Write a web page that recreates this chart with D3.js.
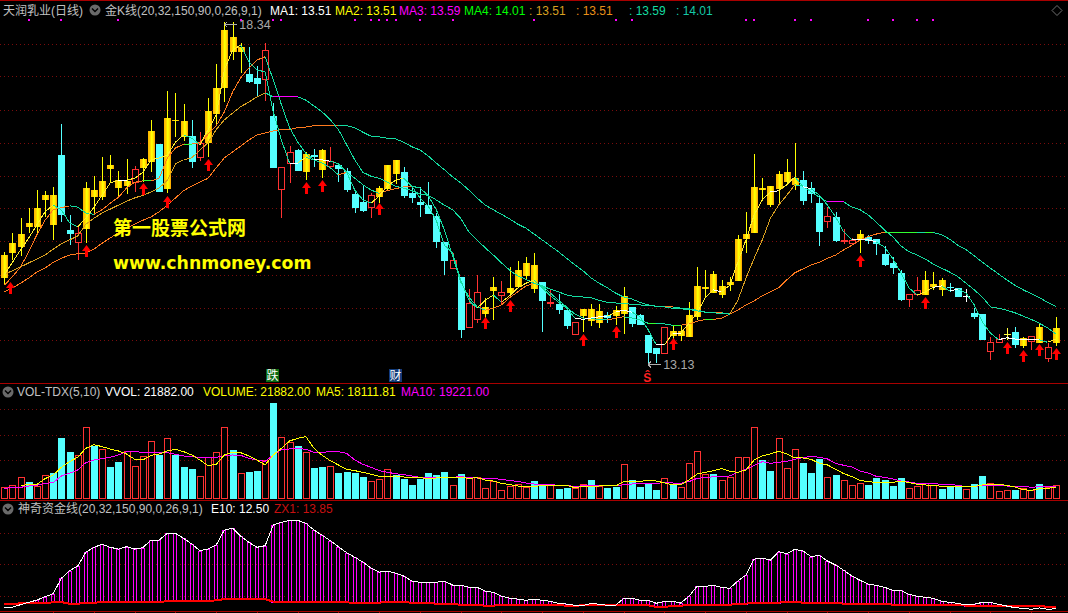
<!DOCTYPE html>
<html><head><meta charset="utf-8">
<script src="https://cdn.jsdelivr.net/npm/d3@7"></script>
<style>html,body{margin:0;padding:0;background:#000;overflow:hidden}svg{display:block}</style>
</head><body><svg id="c" width="1068" height="613"></svg>
<script>
// c = falling (cyan), g = rising gold, r = hollow red, w = white cross, y = yellow cross
const candleKinds = "gggggggccr"+"ggggggrggc"+"gggcrggggg"+"ccrcrrcgcg"+"rccccrgggc"+"cccccrcrrg"+"grggggcrcc"+"rgggcggccc"+"crgggggggg"+"ggggggggcc"+"crcrrgcccc"+"crrgggccwc"+"crrycgrgrg";
const bodyHigh = [14.79,14.97,15.11,15.28,15.51,15.70,15.70,16.31,15.17,15.13,15.81,15.78,15.92,16.16,15.93,15.92,16.10,16.25,16.68,16.48,16.88,16.85,16.83,16.60,16.50,16.98,17.33,18.22,18.11,17.96,17.55,17.49,17.91,16.91,16.13,16.36,16.39,16.33,16.31,16.39,16.22,16.16,16.07,15.72,15.60,15.70,15.81,16.16,16.24,16.05,15.73,15.60,15.55,15.38,14.99,14.71,14.45,14.06,14.23,14.00,14.30,14.23,14.29,14.56,14.67,14.64,14.38,14.07,14.04,13.95,13.77,13.97,13.97,13.94,13.88,13.95,14.17,14.00,13.88,13.57,13.37,13.69,13.63,13.63,13.87,14.32,14.30,14.50,14.32,14.38,15.03,15.11,15.83,15.81,15.84,16.02,16.05,15.96,15.93,15.81,15.58,15.38,15.37,15.02,15.02,15.11,15.07,15.03,14.81,14.67,14.52,14.20,14.26,14.41,14.35,14.41,14.30,14.29,14.17,13.91,13.89,13.46,13.51,13.59,13.62,13.53,13.56,13.69,13.39,13.68];
const bodyLow = [14.44,14.82,14.91,15.22,15.22,15.63,15.25,15.40,15.11,14.99,15.19,15.67,15.67,16.10,15.81,15.84,15.90,16.12,16.21,15.75,15.80,16.83,16.59,16.21,16.28,16.50,16.94,17.33,17.88,17.88,17.43,17.40,17.47,16.12,15.80,16.19,16.07,16.05,16.28,16.09,16.15,16.10,15.78,15.51,15.46,15.52,15.67,15.80,16.02,15.69,15.66,15.55,15.41,14.99,14.70,14.59,13.65,13.69,13.82,13.89,14.24,14.18,14.21,14.30,14.47,14.27,14.09,14.06,13.95,13.71,13.59,13.86,13.78,13.75,13.83,13.86,13.89,13.74,13.72,13.30,13.28,13.30,13.56,13.56,13.54,13.85,14.27,14.21,14.18,14.33,14.39,15.03,15.13,15.78,15.55,15.80,15.90,15.86,15.61,15.72,15.14,15.31,15.00,15.00,14.97,15.02,15.00,14.96,14.64,14.59,14.10,14.12,14.20,14.18,14.30,14.26,14.29,14.15,14.15,13.85,13.50,13.33,13.46,13.58,13.42,13.40,13.48,13.45,13.22,13.45];
const highs = [14.84,15.13,15.35,15.51,15.78,15.77,15.83,16.79,15.40,15.22,15.90,16.00,16.28,16.31,16.07,16.25,16.15,16.27,16.85,16.48,17.29,17.26,17.09,16.85,16.66,17.18,17.70,18.34,18.34,18.02,17.96,17.67,18.02,17.11,16.13,16.45,16.41,16.36,16.41,16.41,16.44,16.19,16.12,15.77,15.84,15.73,15.84,16.16,16.24,16.13,15.84,15.83,15.90,15.43,14.99,14.82,14.45,14.27,14.49,14.14,14.45,14.39,14.61,14.70,14.76,14.82,14.38,14.27,14.20,13.95,13.77,13.97,14.04,14.04,13.92,14.01,14.30,14.00,13.89,13.57,13.37,13.69,13.71,13.71,14.07,14.61,14.56,14.55,14.41,14.45,15.10,15.45,16.33,15.96,15.84,16.07,16.25,16.50,16.07,15.90,15.70,15.52,15.44,15.19,15.05,15.17,15.10,15.03,14.93,14.76,14.56,14.20,14.45,14.55,14.53,14.44,14.36,14.29,14.27,13.98,13.89,13.54,13.59,13.68,13.69,13.54,13.56,13.74,13.45,13.85];
const lows = [14.34,14.71,14.78,15.13,15.13,15.37,15.02,15.29,14.94,14.71,14.97,15.40,15.63,15.90,15.66,15.72,15.75,15.90,16.05,15.75,15.73,16.59,16.53,16.12,16.22,16.28,16.79,17.12,17.76,17.56,17.41,17.20,17.14,16.12,15.35,15.89,16.07,15.93,16.13,15.96,16.12,15.90,15.75,15.43,15.45,15.35,15.58,15.78,15.87,15.66,15.58,15.37,15.41,14.90,14.49,14.59,13.53,13.69,13.75,13.83,13.80,14.03,14.14,14.30,14.41,14.21,13.62,14.00,13.89,13.66,13.57,13.62,13.71,13.68,13.75,13.72,13.59,13.69,13.72,13.13,13.15,13.30,13.50,13.48,13.54,13.80,14.15,14.21,14.14,14.24,14.39,14.82,15.13,15.61,15.52,15.58,15.89,15.78,15.55,15.58,14.93,15.20,14.99,14.96,14.96,14.82,14.96,14.79,14.62,14.50,14.09,14.00,14.17,14.18,14.26,14.17,14.23,14.15,14.07,13.82,13.50,13.19,13.46,13.50,13.37,13.37,13.34,13.45,13.16,13.40];

const maFast = [14.49,14.68,14.87,15.05,15.25,15.45,15.55,15.48,15.28,15.22,15.35,15.52,15.70,15.89,15.93,15.93,15.96,16.05,16.24,16.27,16.31,16.51,16.62,16.57,16.47,16.70,16.92,17.61,17.91,17.99,17.73,17.61,17.58,16.97,16.54,16.19,16.19,16.28,16.24,16.24,16.22,16.18,16.05,15.78,15.63,15.58,15.69,15.84,15.93,15.96,15.84,15.66,15.54,15.32,14.94,14.82,14.41,14.10,13.98,14.10,14.18,14.07,14.17,14.29,14.36,14.41,14.29,14.17,14.07,13.98,13.83,13.81,13.83,13.85,13.86,13.92,13.95,13.92,13.85,13.65,13.42,13.42,13.60,13.60,13.75,13.91,14.14,14.26,14.23,14.33,14.68,15.02,15.40,15.63,15.75,15.77,15.86,15.98,15.83,15.80,15.70,15.55,15.37,15.14,15.02,15.02,15.02,14.99,14.91,14.74,14.52,14.29,14.18,14.23,14.30,14.32,14.24,14.27,14.21,14.03,13.77,13.60,13.50,13.53,13.51,13.50,13.50,13.50,13.46,13.51];
const maSlow = [14.33,14.46,14.61,14.84,15.10,15.32,15.48,15.51,15.54,15.52,15.43,15.41,15.48,15.58,15.67,15.81,15.90,15.92,15.92,15.96,16.27,16.42,16.48,16.48,16.50,16.63,16.76,16.97,17.27,17.49,17.64,17.76,17.81,17.46,17.08,16.73,16.51,16.34,16.24,16.19,16.12,16.01,16.05,15.96,15.86,15.78,15.73,15.77,15.80,15.83,15.84,15.81,15.70,15.48,15.17,14.78,14.38,14.15,14.00,13.95,13.98,14.03,14.14,14.23,14.32,14.36,14.32,14.21,14.10,14.00,13.89,13.83,13.82,13.81,13.80,13.83,13.85,13.83,13.80,13.75,13.75,13.74,13.72,13.72,13.74,13.78,13.81,13.81,13.83,13.89,13.95,14.03,14.09,14.17,14.23,14.29,14.41,14.52,14.58,14.64,14.68,14.74,14.79,14.87,14.94,15.02,15.07,15.11,15.14,15.14,15.14,15.14,15.14,15.13,15.13,15.10,15.03,14.94,14.87,14.78,14.68,14.59,14.50,14.41,14.33,14.26,14.20,14.14,14.07,14.01];
const maMid = [14.50,14.55,14.61,14.67,14.73,14.79,14.88,14.96,15.02,15.08,15.26,15.35,15.43,15.49,15.55,15.61,15.66,15.70,15.75,15.81,15.93,16.18,16.24,16.27,16.39,16.50,16.70,16.85,16.95,17.05,17.12,17.20,17.26,17.20,17.20,17.20,17.20,17.15,17.06,16.97,16.85,16.70,16.47,16.24,16.05,15.99,15.96,15.90,15.84,15.81,15.77,15.72,15.70,15.63,15.55,15.48,15.35,15.14,15.02,14.90,14.79,14.67,14.56,14.47,14.42,14.36,14.32,14.27,14.23,14.18,14.16,14.15,14.14,14.10,14.07,14.06,14.05,14.04,14.03,14.02,14.01,14.00,13.98,13.97,13.96,13.94,13.92,13.91,13.90,13.89,14.10,14.44,14.74,15.02,15.35,15.55,15.70,15.86,15.84,15.75,15.67,15.60,15.60,15.60,15.52,15.48,15.40,15.29,15.17,15.07,14.93,14.84,14.79,14.73,14.65,14.59,14.53,14.46,14.36,14.26,14.15,14.00,13.98,13.95,13.91,13.86,13.81,13.75,13.68,13.59];
const maTrend = [14.23,14.29,14.36,14.44,14.53,14.59,14.68,14.74,14.79,14.81,14.82,14.88,14.97,15.05,15.13,15.20,15.26,15.32,15.37,15.45,15.55,15.66,15.77,15.84,15.90,15.96,16.12,16.27,16.36,16.45,16.54,16.62,16.65,16.68,16.70,16.70,16.73,16.74,16.76,16.77,16.77,16.77,16.76,16.73,16.66,16.60,16.59,16.57,16.56,16.51,16.44,16.39,16.30,16.19,16.09,15.98,15.89,15.78,15.66,15.55,15.48,15.41,15.34,15.26,15.20,15.11,15.02,14.93,14.84,14.74,14.64,14.55,14.44,14.36,14.29,14.21,14.15,14.12,14.07,14.03,14.01,14.00,14.00,13.98,13.97,13.95,13.92,13.91,13.91,13.89];

const priceGrid = [18.01,17.51,17.00,16.50,16.00,15.50,15.00,14.49,13.99,13.49];
const arrowAt = [0.7,10,17,20,25,37,39,46,59,62,71,75,82,105,113,123,125,127,129];
const arrowTip = [14.38,14.94,15.89,15.69,16.25,15.90,15.93,15.58,13.85,14.10,13.59,13.71,13.53,14.79,14.15,13.46,13.34,13.43,13.37];
const dotAt = [3,7,14,29,33,34,43,45,46,47,48,51,55,65,75,77,91,92,97,99,106,109,112,114];

const volKinds = "rrrcrrcccr"+"rcrccrrrrc"+"rcccrrrrcr"+"ccrcrrcrcc"+"rccccrrrcc"+"cccccrcrrr"+"rrrrrccrcc"+"rrcrccrccc"+"crcrrrrcrr"+"rrrccrrrcc"+"crcrrrcccc"+"crrrrcccrc"+"crrrcrrcrr";
const volumes = [18240,21360,33870,26570,20320,36990,40640,95340,73460,68250,112020,83360,77630,50020,57830,74500,51060,66690,90130,69290,94820,69290,50020,46890,35430,65130,72940,112020,76590,40120,42200,43760,60960,150050,96390,88570,82840,72940,48450,50020,51060,40640,42200,40640,34390,27610,30740,46370,37510,31260,21880,31260,40640,37510,42200,21360,38550,32300,33870,16670,27610,13550,19800,22920,18240,27610,21360,22920,15630,17190,16670,22920,29700,20320,17190,18760,54180,29700,18760,23450,14070,32300,21880,18240,55750,74500,39080,39080,29180,33870,65130,65130,112020,60960,43760,94820,47930,77630,56270,40640,62520,33870,37510,29180,21360,24490,21880,32820,29700,20320,32820,16670,19800,24490,21360,15630,18760,21360,15110,23450,35950,24490,11980,13550,14070,16670,13550,23450,18240,21882];
const volMa5 = [null,null,21360,22400,22920,31780,37510,49500,58350,65130,79190,84920,81800,78150,75020,70340,62000,60960,68250,70340,75020,77630,73980,68770,60960,52100,54180,68770,72940,72420,67210,60960,53140,68770,79190,90650,94820,97430,79190,68250,59920,53140,46370,44290,41680,38550,35430,35430,35950,34390,33340,33340,31780,32820,33870,33870,33870,32300,33340,29700,28130,24490,22400,20320,19800,19800,20840,20320,21360,21360,17710,19800,19800,20320,20320,20320,27090,27610,27610,29180,28130,25010,22400,22400,29700,39080,41680,44290,47410,43240,41680,45330,60960,67210,70340,74500,70340,64080,64080,62000,55750,53140,46370,39600,34910,29180,27090,26050,26050,26050,28130,25530,22920,21880,21360,19800,19800,20320,18760,19280,21880,22920,22920,21360,18760,14590,13550,16150,16670,18112];
const volMa10 = [16670,17710,18240,20320,21360,24490,25530,35950,40120,45330,56790,60960,63040,65130,68770,73980,74500,72420,72940,72420,72420,69810,67210,66170,65130,64600,65130,67210,68770,68250,63560,60960,58870,68770,77110,78150,79190,77630,72940,72940,73980,73980,71380,60960,54180,49500,44290,41680,39600,38030,35950,33870,33870,33870,33870,33870,34910,33340,32820,32300,31780,30740,28660,27610,25010,23450,22400,22400,21360,21360,19280,20840,20840,20840,20320,20320,22400,23450,23970,24490,24490,25530,25010,24490,27090,32300,33340,34910,35430,35950,41680,46370,52620,58350,55750,57310,58870,62000,64600,66690,65130,62520,55750,52620,50020,43760,40640,35430,33870,31260,28130,26570,24490,24490,23970,22920,22920,21360,19280,19280,21360,21360,21360,20320,19800,19800,18240,19280,19280,19221];
const volGrid = [140000,100000,61000];

const e10 = [13.3,13.8,15.7,17.6,19.4,22.1,24.5,36.8,42.9,46.6,57.6,61.6,64.0,61.6,60.2,62.1,60.2,61.3,67.4,67.4,72.8,72.8,68.8,64.2,58.9,60.2,63.5,75.4,77.0,70.6,65.6,61.6,62.9,79.4,81.6,83.2,83.2,80.8,75.4,71.2,66.9,62.1,57.3,53.6,49.8,45.0,41.8,42.6,41.0,38.6,34.6,33.6,33.6,33.6,34.6,31.4,31.4,29.6,29.6,26.6,25.6,22.6,21.0,20.2,19.2,20.2,19.2,18.4,16.8,16.2,15.2,14.9,16.8,16.0,15.2,15.2,20.8,20.8,19.2,19.2,16.8,18.4,18.4,17.0,22.4,30.4,30.4,31.2,29.6,28.8,34.6,39.4,52.2,53.0,51.4,58.1,56.5,60.0,58.6,54.1,55.2,50.6,47.4,43.2,38.6,35.2,32.2,31.2,29.6,27.2,27.2,24.0,22.4,21.6,20.8,18.4,17.6,16.8,15.5,16.0,17.6,17.6,16.0,14.6,13.3,12.8,12.0,13.1,12.0,12.5];
const zx1 = [16.2,16.2,16.8,16.8,17.0,17.0,17.6,17.8,16.5,16.5,17.0,17.0,18.1,18.1,18.1,18.1,18.1,18.1,17.8,17.8,18.6,18.6,18.6,18.6,18.6,18.6,19.2,20.2,20.2,20.2,20.2,20.2,20.2,18.1,18.1,18.1,18.1,17.6,17.6,17.6,17.6,17.6,17.6,17.0,17.3,17.3,17.3,18.1,18.1,17.8,17.3,17.3,17.0,16.5,16.5,16.2,15.7,15.7,15.4,14.9,14.9,15.7,15.7,15.7,15.7,15.7,15.7,15.7,15.4,14.9,14.9,15.2,15.4,15.4,15.4,15.4,15.2,15.2,15.2,15.2,13.8,13.8,14.9,14.9,15.4,15.4,15.4,15.4,15.7,15.7,16.2,16.5,17.3,17.3,17.3,17.3,18.1,18.1,17.3,17.3,17.3,17.3,17.3,16.5,16.5,16.5,16.5,16.5,16.5,15.7,15.7,15.7,15.7,15.7,15.7,15.7,15.7,15.7,14.9,14.9,14.9,14.9,14.9,14.9,14.9,14.9,14.9,14.9,13.85,13.85];
const fundGrid = [73.4,48.4,22.8];

const svg = d3.select("#c");
const defs = svg.append("defs");
const grad = defs.append("linearGradient").attr("id","gold");
[[0,"#ffb400"],[0.3,"#ffd000"],[0.5,"#ffff00"],[0.72,"#ffee00"],[1,"#ff9c00"]].forEach(s=>grad.append("stop").attr("offset",s[0]).attr("stop-color",s[1]));
svg.append("rect").attr("width",1068).attr("height",613).attr("fill","#000");

const n = bodyHigh.length;
const x = d3.scaleLinear().domain([0,129]).range([4.3,1055.7]);
const yP = d3.scaleLinear().domain([13.13,18.34]).range([364,22]);
const yV = d3.scaleLinear().domain([0,150000]).range([499,403]);
const yF = d3.scaleLinear().domain([13.85,93.85]).range([607,507]);
const snap = v => Math.round(v)+0.5;

const RED="#ff3232", CYAN="#54ffff", GRID="#7a0c0c", FRAME="#a80000";

function grid(vals,scale){
  svg.append("g").selectAll("line").data(vals).join("line")
    .attr("x1",0).attr("x2",1066).attr("y1",d=>snap(scale(d))).attr("y2",d=>snap(scale(d)))
    .attr("stroke",GRID).attr("stroke-dasharray","1 3").attr("shape-rendering","crispEdges");
}
grid(priceGrid,yP); grid(volGrid,yV); grid(fundGrid,yF);

[0.5,383.5,500.5,611.5].forEach(yy=>svg.append("line").attr("x1",0).attr("x2",1068).attr("y1",yy).attr("y2",yy)
  .attr("stroke",FRAME).attr("shape-rendering","crispEdges"));
svg.append("g").selectAll("line").data(d3.range(6,n,5)).join("line")
  .attr("x1",d=>snap(x(d))).attr("x2",d=>snap(x(d))).attr("y1",612).attr("y2",613)
  .attr("stroke",FRAME).attr("shape-rendering","crispEdges");

// top row of signal dots
svg.append("g").selectAll("rect").data(dotAt).join("rect")
  .attr("x",d=>Math.round(x(d))-1).attr("y",19).attr("width",2).attr("height",2).attr("fill","#ff00ff");

// candles
const kindColor = {c:CYAN,g:"#ffff00",r:RED,w:"#ffffff",y:"#ffff40"};
const cg = svg.append("g").attr("shape-rendering","crispEdges");
d3.range(n).forEach(i=>{
  const k=candleKinds[i], cx=snap(x(i)), col=kindColor[k];
  cg.append("line").attr("x1",cx).attr("x2",cx).attr("y1",yP(highs[i])).attr("y2",yP(lows[i])).attr("stroke",col);
  const top=Math.round(yP(bodyHigh[i])), bot=Math.round(yP(bodyLow[i]));
  const h=Math.max(bot-top,1);
  const left=Math.round(x(i))-3;
  if(k==="g") cg.append("rect").attr("x",left).attr("y",top).attr("width",7).attr("height",h).attr("fill","url(#gold)");
  else if(k==="c") cg.append("rect").attr("x",left).attr("y",top).attr("width",7).attr("height",h).attr("fill",CYAN);
  else if(k==="r") cg.append("rect").attr("x",left+0.5).attr("y",top+0.5).attr("width",6).attr("height",h).attr("fill","#000").attr("stroke",RED);
  else cg.append("line").attr("x1",left).attr("x2",left+7).attr("y1",top+0.5).attr("y2",top+0.5).attr("stroke",col);
});

// colour-changing moving averages
function trendLine(vals,rise,flat,width,eps){
  const g=svg.append("g").attr("fill","none").attr("shape-rendering","crispEdges");
  const ln=d3.line().x(d=>x(d[0])).y(d=>yP(d[1]));
  d3.range(vals.length-1).forEach(i=>{
    const d=vals[i+1]-vals[i];
    const col=Math.abs(d)<=eps?flat:(d>0?rise:"#14dca0");
    g.append("path").attr("d",ln([[i,vals[i]],[i+1,vals[i+1]]])).attr("stroke",col).attr("stroke-width",width);
  });
}
trendLine(maTrend,"#ff7a1e","#ff7a1e",1,0.005);
trendLine(maSlow,"#ff7a1e","#30ff30",1,0.005);
trendLine(maMid,"#d8a020","#ff00ff",1,0.005);
trendLine(maFast,"#ffee30","#ffffff",1,0.03);

// buy arrows
svg.append("g").selectAll("path").data(arrowAt).join("path")
  .attr("transform",(d,i)=>`translate(${Math.round(x(d))+0.5},${Math.round(yP(arrowTip[i]))})`)
  .attr("d","M0,0L4.5,6H1.5V12H-1.5V6H-4.5Z").attr("fill","#ff0000");

// high/low tags
function tag(idx,price,yOff,label){
  const px=x(idx), py=Math.round(yP(price))+yOff+0.5;
  svg.append("path").attr("d",`M${px},${py}H${px+13}M${px},${py}l3,-3M${px},${py}l3,3`)
    .attr("stroke","#b0b0b0").attr("fill","none").attr("shape-rendering","crispEdges");
  svg.append("text").attr("x",px+15).attr("y",py+4.5).text(label)
    .attr("fill","#a8a8a8").attr("font-family","Liberation Sans").attr("font-size",12.5);
}
tag(27,18.34,2,"18.34");
tag(79,13.13,0,"13.13");

// signal stamps
function stamp(idx,xo,yTop,ch,bg){
  const bx=Math.round(x(idx))+xo;
  svg.append("rect").attr("x",bx).attr("y",yTop).attr("width",13).attr("height",13).attr("fill",bg);
  svg.append("text").attr("x",bx+6.5).attr("y",yTop+11).attr("text-anchor","middle").text(ch)
    .attr("fill","#fff").attr("font-size",12).attr("font-family","Noto Sans CJK SC");
}
stamp(33,-7,369,"跌","#0a6a12");
stamp(48,-7,369,"财","#123a78");
svg.append("text").attr("x",x(79)-1).attr("y",382).attr("text-anchor","middle").text("Ŝ")
  .attr("fill","#ff2020").attr("font-size",12).attr("font-weight","bold").attr("font-family","Liberation Sans");

// watermark
svg.append("text").attr("x",113).attr("y",235).text("第一股票公式网").attr("fill","#ffff00")
  .attr("font-size",19).attr("font-weight","bold").attr("font-family","Noto Sans CJK SC");
svg.append("text").attr("x",113).attr("y",269).text("www.chnmoney.com").attr("fill","#ffff00")
  .attr("font-size",17.3).attr("font-weight","bold").attr("font-family","DejaVu Sans");

// volume pane
const vg=svg.append("g").attr("shape-rendering","crispEdges");
volumes.forEach((v,i)=>{
  const top=Math.round(yV(v)), left=Math.round(x(i))-3;
  if(volKinds[i]==="c") vg.append("rect").attr("x",left).attr("y",top).attr("width",7).attr("height",499-top).attr("fill",CYAN);
  else vg.append("rect").attr("x",left+0.5).attr("y",top+0.5).attr("width",6).attr("height",499-top-1).attr("fill","#000").attr("stroke",RED);
});
const vl=d3.line().defined(d=>d!==null).x((d,i)=>x(i)).y(d=>yV(d));
svg.append("path").attr("d",vl(volMa10)).attr("fill","none").attr("stroke","#ff00ff").attr("shape-rendering","crispEdges");
svg.append("path").attr("d",vl(volMa5)).attr("fill","none").attr("stroke","#ffff00").attr("shape-rendering","crispEdges");

// fund pane
const fg=svg.append("g").attr("shape-rendering","crispEdges");
e10.forEach((v,i)=>{
  if(v<=zx1[i]) return;
  const top=Math.round(yF(v)), bot=Math.round(yF(zx1[i])), left=Math.round(x(i))-2;
  fg.append("rect").attr("x",left+0.5).attr("y",top+0.5).attr("width",3).attr("height",Math.max(bot-top,1))
    .attr("fill","none").attr("stroke","#ff00ff");
});
const fl=d3.line().x((d,i)=>x(i)).y(d=>yF(d));
svg.append("path").attr("d",fl(zx1)).attr("fill","none").attr("stroke","#ff0000").attr("stroke-width",2).attr("shape-rendering","crispEdges");
svg.append("path").attr("d",fl(e10)).attr("fill","none").attr("stroke","#ffffff").attr("shape-rendering","crispEdges");

// headers
function label(px,py,t,col){
  return svg.append("text").attr("x",px).attr("y",py).text(t).attr("fill",col)
    .attr("font-family","'Liberation Sans','Noto Sans CJK SC'").attr("font-size",12);
}
function chevron(cx,cy){
  svg.append("circle").attr("cx",cx).attr("cy",cy).attr("r",5.5).attr("fill","#6a6a6a");
  svg.append("path").attr("d",`M${cx-3},${cy-1.5}L${cx},${cy+1.5}L${cx+3},${cy-1.5}`).attr("fill","none").attr("stroke","#000").attr("stroke-width",1.4);
}
label(3,15,"天润乳业(日线)","#c0c0c0").attr("font-size",12);
chevron(95,10);
label(105,15,"金K线(20,32,150,90,0,26,9,1)","#c0c0c0");
label(270,15,"MA1: 13.51","#ffffff");
label(335,15,"MA2: 13.51","#ffff00");
label(399,15,"MA3: 13.59","#ff00ff");
label(464,15,"MA4: 14.01","#00ff00");
label(529,15,": 13.51","#d8a020");
label(576,15,": 13.51","#e89018");
label(629,15,": 13.59","#14dca0");
label(676,15,": 14.01","#14c8a8");
svg.append("path").attr("transform","translate(1057,10.5)").attr("d","M0,-5L5,0L0,5L-5,0Z").attr("fill","none").attr("stroke","#707070");

chevron(8,392);
label(17,396,"VOL-TDX(5,10)","#c0c0c0");
label(105,396,"VVOL: 21882.00","#ffffff");
label(203,396,"VOLUME: 21882.00","#ffff00");
label(316,396,"MA5: 18111.81","#ffff00");
label(401,396,"MA10: 19221.00","#ff00ff");

chevron(8,509);
label(18,513,"神奇资金线(20,32,150,90,0,26,9,1)","#c0c0c0");
label(211,513,"E10: 12.50","#ffffff");
label(274,513,"ZX1: 13.85","#c81010");
</script></body></html>
